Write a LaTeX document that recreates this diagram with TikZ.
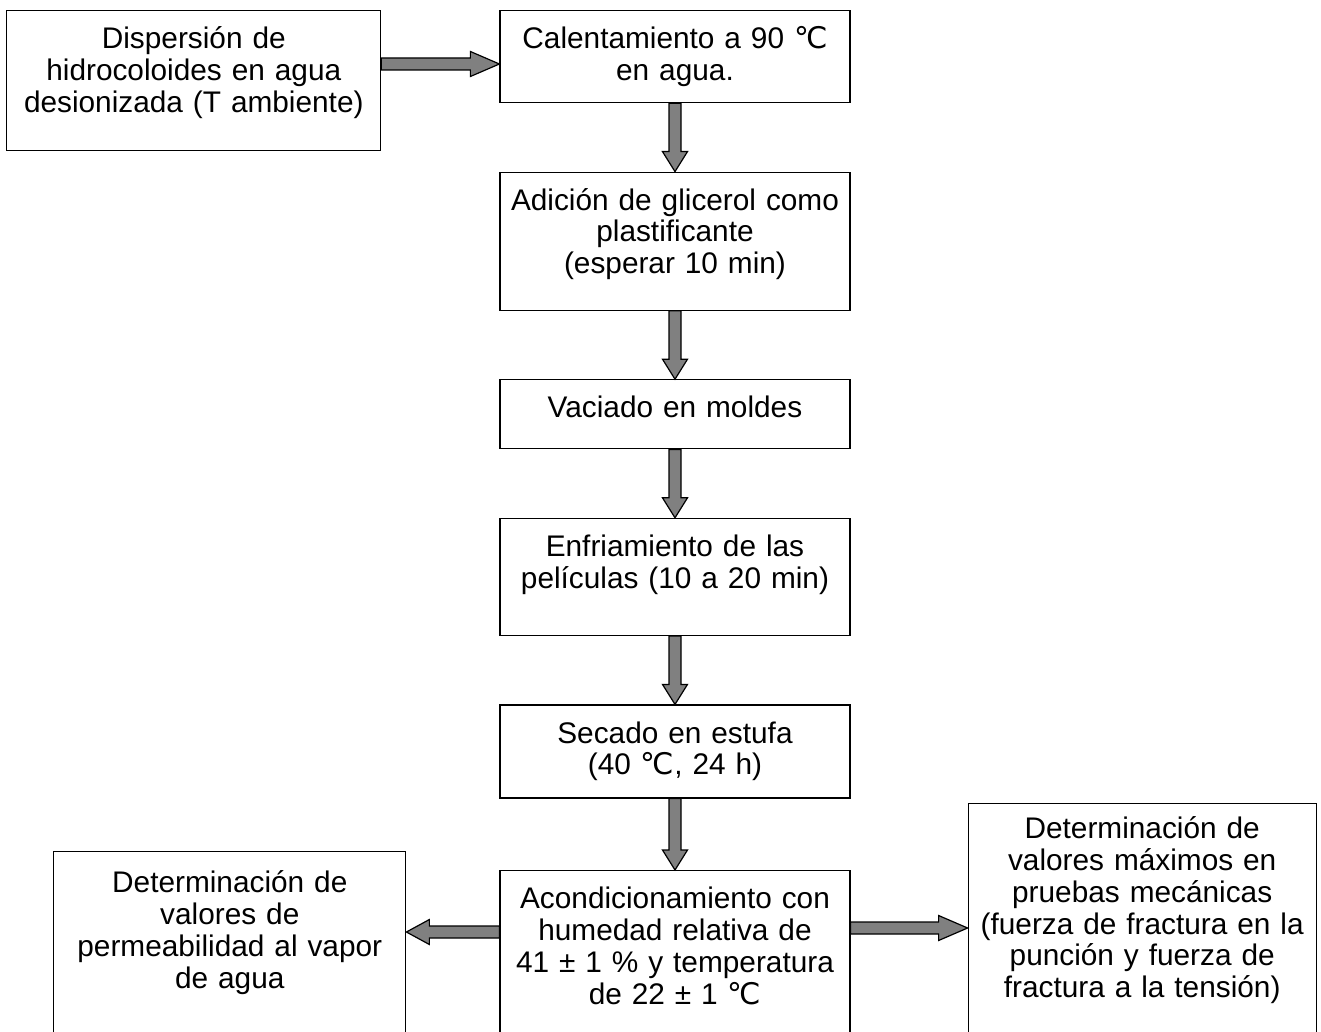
\documentclass[tikz,border=0pt]{standalone}
\usepackage{fontspec}
\setmainfont{Liberation Sans}
\newfontfamily\degcfont{DejaVu Sans}
\usepackage{xcolor}
\usepackage{tikz}
\usetikzlibrary{positioning, calc}
\definecolor{arrowgray}{HTML}{808080}
\newcommand{\gradC}{{\degcfont ℃}}
\tikzset{
    stepbox/.style={
        draw=black,
        line width=0.6pt,
        align=center,
        text width=171pt,
        inner xsep=2pt,
        inner ysep=0pt,
        text height=19pt,
        font=\fontsize{14.9pt}{15.9pt}\selectfont
    },
    blockarrow/.style={
        draw=black, fill=arrowgray, line width=0.6pt, line join=miter,
        to path={
            ($(\tikztotarget)!#1!(\tikztostart)$) coordinate (ab)
            ($(\tikztostart)!3pt!90:(\tikztotarget)$)
            -- ($(ab)!3pt!-90:(\tikztostart)$)
            -- ($(ab)!6.25pt!-90:(\tikztostart)$)
            -- (\tikztotarget)
            -- ($(ab)!6.25pt!90:(\tikztostart)$)
            -- ($(ab)!3pt!90:(\tikztostart)$)
            -- ($(\tikztostart)!3pt!-90:(\tikztotarget)$)
            -- cycle}
    },
    blockarrow/.default=10pt
}

\begin{document}
\begin{tikzpicture}[node distance=34.2pt]
    \path[use as bounding box, fill=white] (-337.5pt,5pt) rectangle (323pt,-511pt);
    \clip (-337.5pt,5pt) rectangle (323pt,-511pt);

    % main column
    \node[stepbox, text depth=27pt, anchor=north] (heat) at (0,0) {Calentamiento a 90 \gradC\\en agua.};
    \node[stepbox, text depth=50pt, below=of heat] (glyc) {Adición de glicerol como\\plastificante\\ (esperar 10 min)};
    \node[stepbox, text depth=15.5pt, below=of glyc] (mold) {Vaciado en moldes};
    \node[stepbox, text depth=39.5pt, below=of mold] (cool) {Enfriamiento de las\\películas (10 a 20 min)};
    \node[stepbox, text depth=27.5pt, below=of cool] (dry) {Secado en estufa\\(40 \gradC, 24 h)};
    \node[stepbox, text depth=95pt, below=35.7pt of dry] (cond) {Acondicionamiento con\\humedad relativa de\\41 ± 1 \% y temperatura\\de 22 ± 1 \gradC};

    % side boxes
    \node[stepbox, text width=183pt, text depth=51pt, left=59pt of heat.north west, anchor=north east] (disp) {Dispersión de\\hidrocoloides en agua\\desionizada (T ambiente)};
    \node[stepbox, text width=172pt, text height=20.5pt, text depth=100pt, left=46.5pt of cond.north west, anchor=north east, yshift=9.5pt] (perm) {Determinación de\\valores de\\permeabilidad al vapor\\de agua};
    \node[stepbox, text width=170pt, text height=17.5pt, text depth=125pt, right=58.5pt of cond.north east, anchor=north west, yshift=33.5pt] (mech) {Determinación de\\valores máximos en\\pruebas mecánicas\\(fuerza de fractura en la\\punción y fuerza de\\fractura a la tensión)};

    % arrows
    \coordinate (a0) at ([yshift=-27pt]heat.north west);
    \coordinate (cl) at ([yshift=-31pt]cond.north west);
    \coordinate (cr) at ([yshift=-29pt]cond.north east);
    \draw[blockarrow=14.5pt] (disp.east |- a0) to (a0);
    \draw[blockarrow] (heat.south) to (glyc.north);
    \draw[blockarrow] (glyc.south) to (mold.north);
    \draw[blockarrow] (mold.south) to (cool.north);
    \draw[blockarrow] (cool.south) to (dry.north);
    \draw[blockarrow] (dry.south) to (cond.north);
    \draw[blockarrow=11.5pt] (cl) to (perm.east |- cl);
    \draw[blockarrow=14.5pt] (cr) to (mech.west |- cr);
\end{tikzpicture}
\end{document}
